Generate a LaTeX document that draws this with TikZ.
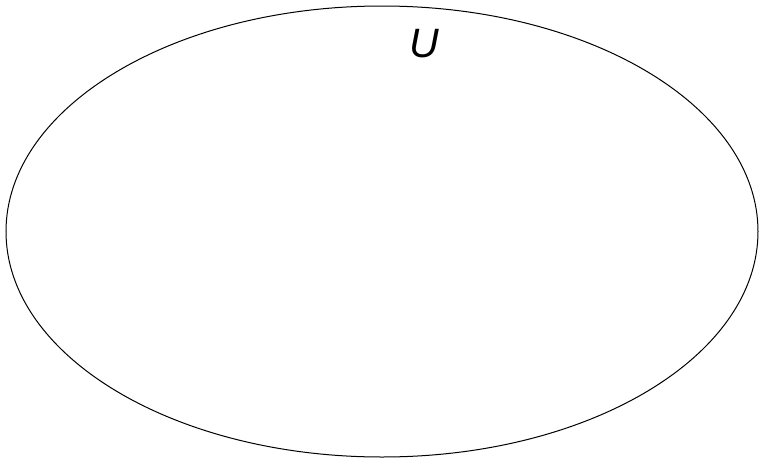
\documentclass[tikz,border=0pt]{standalone}
\usepackage{fontspec}
\setmainfont{Liberation Sans}
\usetikzlibrary{positioning}

\begin{document}
\begin{tikzpicture}[x=1pt, y=-1pt]
    % Fix the frame to the reference size
    \useasboundingbox (0,0) rectangle (763,461);

    % Draw the universal set
    \draw[line width=1pt, black] (382,231.5) ellipse (376 and 225.5);
    \node[font=\fontsize{41}{41}\selectfont\itshape] (lblU) at (424,44) {U};
\end{tikzpicture}
\end{document}
